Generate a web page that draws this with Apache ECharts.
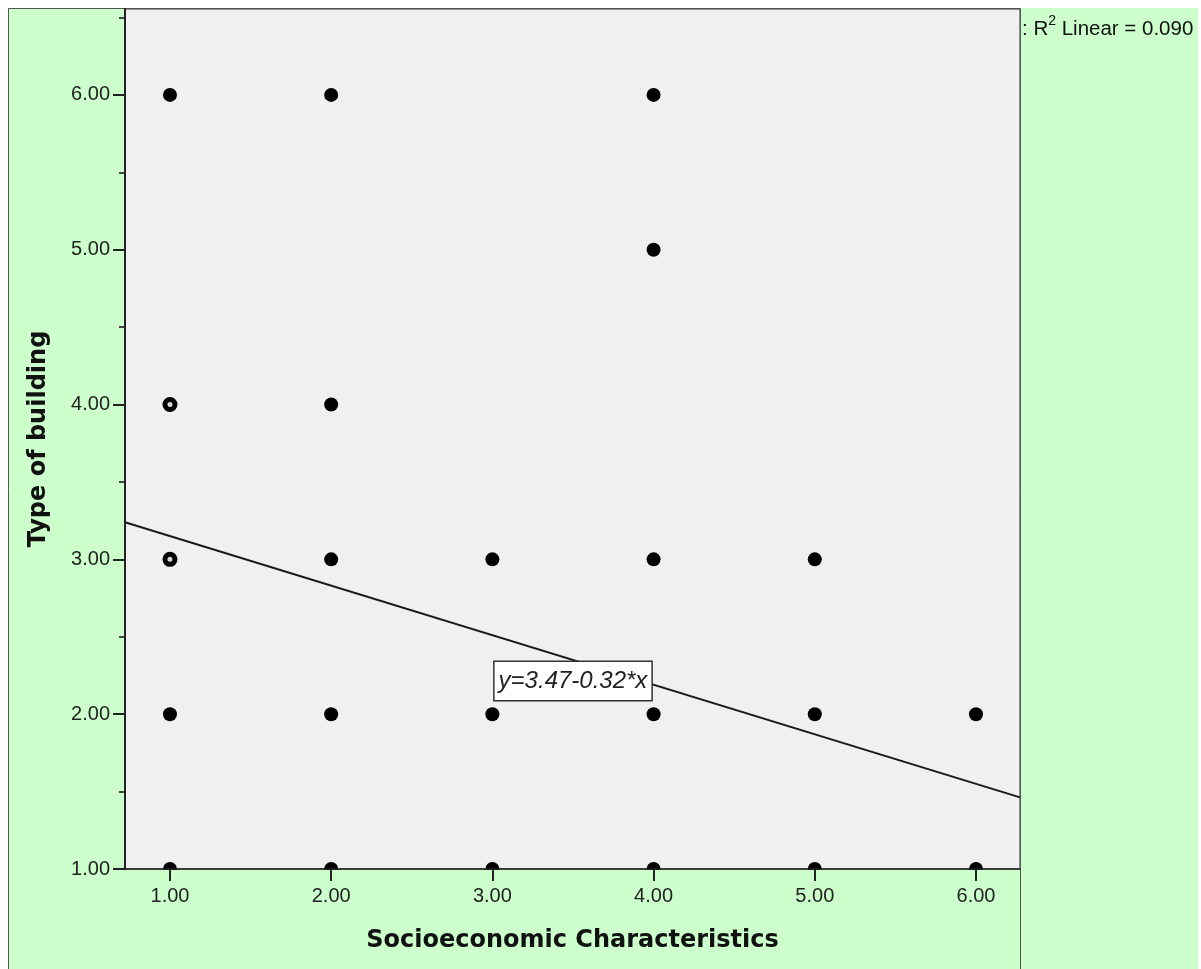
<!DOCTYPE html>
<html>
<head>
<meta charset="utf-8">
<title>Type of building vs Socioeconomic Characteristics</title>
<script src="https://cdn.jsdelivr.net/npm/echarts@6/dist/echarts.min.js"></script>
<style>
  html, body { margin: 0; padding: 0; background: #ffffff; }
  #chart { width: 1201px; height: 969px; }
</style>
</head>
<body>
<div id="chart"></div>
<script>
// 数据点 (solid markers)
const pointX = [1, 1, 1, 2, 2, 2, 2, 2, 3, 3, 3, 4, 4, 4, 4, 4, 5, 5, 5, 6, 6]
const pointY = [6, 2, 1, 6, 4, 3, 2, 1, 3, 2, 1, 6, 5, 3, 2, 1, 3, 2, 1, 2, 1]
// lighter ring markers
const ringX = [1, 1]
const ringY = [4, 3]

// fit line: y = 3.47 - 0.32 * x, R2 = 0.090
const fitIntercept = 3.47
const fitSlope = -0.32
const fitRange = [0.721, 6.273]
const rSquare = '0.090'

// axis ranges and ticks
const xRange = [0.721, 6.273]
const yRange = [1, 6.555]
const xTicks = [1, 2, 3, 4, 5, 6]
const yTicks = [1, 2, 3, 4, 5, 6]
const yHalfTicks = [1.5, 2.5, 3.5, 4.5, 5.5, 6.5]
const labelAt = [3.5, 2.215]

const chart = echarts.init(document.getElementById('chart'), null, { renderer: 'canvas' })

const toPairs = (xs, ys) => xs.map((x, i) => [x, ys[i]])
const fitData = fitRange.map(x => [x, fitIntercept + fitSlope * x])
const fmt = v => Number(v).toFixed(2)

const gridBox = { left: 125, right: 181, top: 9, bottom: 100 }
const tickFont = { fontFamily: 'Liberation Sans, Arial, sans-serif', fontSize: 20, color: '#222' }

const option = {
  backgroundColor: '#ffffff',
  animation: false,
  graphic: [
    // green background panel
    {
      type: 'rect',
      z: -10,
      silent: true,
      shape: { x: 8, y: 8, width: 1190, height: 961 },
      style: { fill: '#ccffcc' }
    },
    // markers on the x axis are cut off at the plot edge
    {
      type: 'rect',
      z: 5,
      silent: true,
      shape: { x: 126, y: 870, width: 894, height: 9 },
      style: { fill: '#ccffcc' }
    },
    // outer frame of the chart area
    {
      type: 'polyline',
      z: 10,
      silent: true,
      shape: { points: [[8.5, 969], [8.5, 8.5], [1020.5, 8.5], [1020.5, 969]] },
      style: { stroke: '#555', lineWidth: 1, fill: null }
    },
    {
      type: 'text',
      left: 1022,
      top: 14,
      silent: true,
      style: {
        text: '{a|: R}{sup|2}{a| Linear = ' + rSquare + '}',
        rich: {
          a: { fontFamily: 'Liberation Sans, Arial, sans-serif', fontSize: 20.5, lineHeight: 26, fill: '#111', verticalAlign: 'bottom' },
          sup: { fontFamily: 'Liberation Sans, Arial, sans-serif', fontSize: 14, lineHeight: 26, fill: '#111', verticalAlign: 'top' }
        }
      }
    }
  ],
  grid: [
    Object.assign({ show: true, backgroundColor: '#f0f0f0', borderColor: '#333', borderWidth: 1 }, gridBox),
    Object.assign({ show: false }, gridBox)
  ],
  xAxis: [
    {
      type: 'value',
      gridIndex: 0,
      z: 10,
      min: xRange[0],
      max: xRange[1],
      name: 'Socioeconomic Characteristics',
      nameLocation: 'middle',
      nameGap: 60,
      nameTextStyle: { fontFamily: 'DejaVu Sans', fontWeight: 'bold', fontSize: 24, color: '#111' },
      axisLine: { show: true, lineStyle: { color: '#222', width: 1.5 } },
      axisTick: { show: true, length: 12, customValues: xTicks, lineStyle: { color: '#222', width: 2 } },
      axisLabel: Object.assign({ customValues: xTicks, margin: 17, formatter: fmt }, tickFont),
      splitLine: { show: false }
    },
    {
      type: 'value',
      gridIndex: 1,
      min: xRange[0],
      max: xRange[1],
      show: false
    }
  ],
  yAxis: [
    {
      type: 'value',
      gridIndex: 0,
      z: 10,
      min: yRange[0],
      max: yRange[1],
      name: 'Type of building',
      nameLocation: 'middle',
      nameGap: 74,
      nameRotate: 90,
      nameTextStyle: { fontFamily: 'DejaVu Sans', fontWeight: 'bold', fontSize: 24, color: '#111' },
      axisLine: { show: true, lineStyle: { color: '#222', width: 2 } },
      axisTick: { show: true, length: 12, customValues: yTicks, lineStyle: { color: '#222', width: 2 } },
      axisLabel: Object.assign({ customValues: yTicks, margin: 15, formatter: fmt }, tickFont),
      splitLine: { show: false }
    },
    {
      // 半格刻度
      type: 'value',
      gridIndex: 1,
      min: yRange[0],
      max: yRange[1],
      axisLine: { show: false },
      axisTick: { show: true, length: 6, customValues: yHalfTicks, lineStyle: { color: '#444', width: 2 } },
      axisLabel: { show: false },
      splitLine: { show: false }
    }
  ],
  series: [
    {
      type: 'line',
      xAxisIndex: 0,
      yAxisIndex: 0,
      data: fitData,
      symbol: 'none',
      clip: true,
      lineStyle: { color: '#1a1a1a', width: 2 },
      z: 2,
      markPoint: {
        symbol: 'rect',
        symbolSize: 0,
        data: [{ coord: labelAt, value: 0 }],
        label: {
          show: true,
          position: 'inside',
          formatter: 'y=3.47-0.32*x',
          fontFamily: 'Liberation Sans, Arial, sans-serif',
          fontStyle: 'italic',
          fontSize: 24,
          lineHeight: 26,
          color: '#222',
          backgroundColor: '#ffffff',
          borderColor: '#333',
          borderWidth: 1.5,
          padding: [7, 4, 5, 4]
        }
      }
    },
    {
      type: 'scatter',
      xAxisIndex: 0,
      yAxisIndex: 0,
      data: toPairs(pointX, pointY),
      symbol: 'circle',
      symbolSize: 14,
      clip: true,
      itemStyle: { color: '#000', opacity: 1 },
      z: 3
    },
    {
      type: 'scatter',
      xAxisIndex: 0,
      yAxisIndex: 0,
      data: toPairs(ringX, ringY),
      symbol: 'circle',
      symbolSize: 10,
      clip: true,
      itemStyle: { color: '#d8d8d8', borderColor: '#000', borderWidth: 5, opacity: 1 },
      z: 3
    }
  ]
}

chart.setOption(option)
</script>
</body>
</html>
